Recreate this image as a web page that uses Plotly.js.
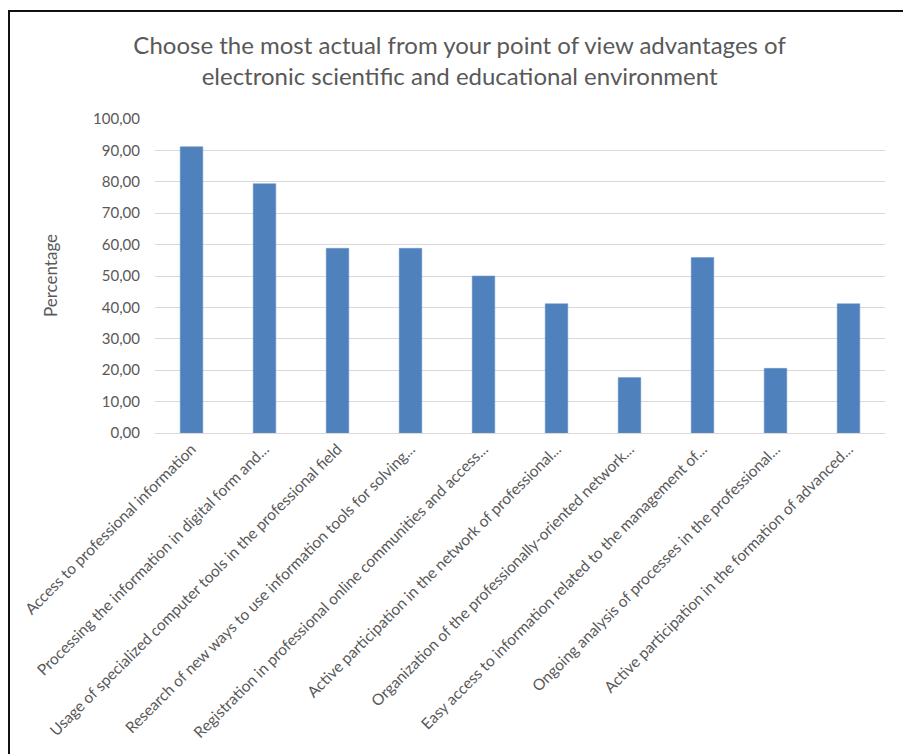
<!DOCTYPE html>
<html>
<head>
<meta charset="utf-8">
<script src="https://cdn.plot.ly/plotly-3.0.1.min.js"></script>
<style>
  html, body { margin: 0; padding: 0; overflow: hidden; background: #fff; }
  #chart { width: 903px; height: 754px; }
  #frame { position: absolute; left: 8px; top: 10px; width: 1000px; height: 1000px;
           border: 2px solid #111; pointer-events: none; }
</style>
</head>
<body>
<div id="chart"></div>
<div id="frame"></div>
<script>
const categories = [
  "Access to professional information",
  "Processing the information in digital form and...",
  "Usage of specialized computer tools in the professional field",
  "Research of new ways to use information tools for solving...",
  "Registration in professional online communities and access...",
  "Active participation in the network of professional...",
  "Organization of the professionally-oriented network...",
  "Easy access to information related to the management of...",
  "Ongoing analysis of processes in the professional...",
  "Active participation in the formation of advanced..."
];
const percentages = [91.18, 79.41, 58.82, 58.82, 50.00, 41.18, 17.65, 55.88, 20.59, 41.18];
const yTicks = [0, 10, 20, 30, 40, 50, 60, 70, 80, 90, 100];

const font = "Lato, 'Open Sans', sans-serif";
const grey = "#595959";

Plotly.newPlot("chart", [{
  type: "bar",
  x: categories,
  y: percentages,
  marker: { color: "#4f81bd", line: { color: "#6a96cc", width: 0.5 } },
  hoverinfo: "x+y"
}], {
  width: 903, height: 754,
  margin: { l: 155, r: 18, t: 119, b: 321 },
  paper_bgcolor: "#fff", plot_bgcolor: "#fff",
  separators: ",.",
  bargap: 0.69,
  showlegend: false,
  title: {
    text: "Choose the most actual from your point of view advantages of<br>electronic scientific and educational environment",
    font: { family: font, size: 24, color: grey },
    xref: "container", x: 0.509, xanchor: "center",
    yref: "container", y: 0.928, yanchor: "top"
  },
  annotations: [{
    text: "Percentage",
    xref: "paper", yref: "paper",
    x: -0.1438, y: 0.5, xanchor: "center", yanchor: "middle",
    textangle: -90, showarrow: false,
    font: { family: font, size: 17, color: grey }
  }],
  xaxis: {
    type: "category",
    tickangle: -45,
    tickfont: { family: font, size: 15.5, color: grey },
    showgrid: false,
    showline: true, linecolor: "#d9d9d9", linewidth: 1,
    ticks: "", automargin: false
  },
  yaxis: {
    range: [0, 100],
    tickvals: yTicks,
    tickformat: ".2f",
    tickfont: { family: font, size: 15, color: grey },
    ticklabelstandoff: 14,
    gridcolor: "#d9d9d9", gridwidth: 1,
    zeroline: false, showline: false, ticks: "",
    ticklen: 0, automargin: false
  }
}, { displayModeBar: false, staticPlot: true });
</script>
</body>
</html>
